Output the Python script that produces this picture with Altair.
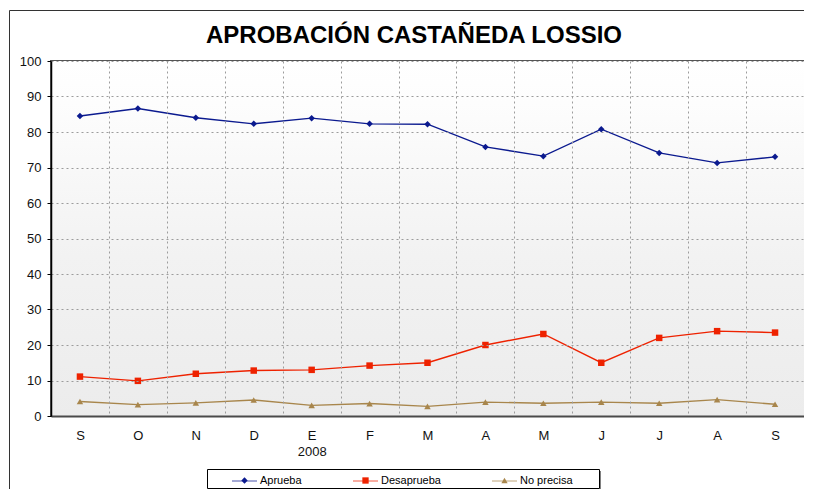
import altair as alt
import pandas as pd

# ---- data ----
keys = ["2007-09", "2007-10", "2007-11", "2007-12", "2008-01", "2008-02", "2008-03",
        "2008-04", "2008-05", "2008-06", "2008-07", "2008-08", "2008-09"]
month_labels = ["S", "O", "N", "D", "E", "F", "M", "A", "M", "J", "J", "A", "S"]
aprueba = [84.5, 86.6, 84.0, 82.3, 83.9, 82.3, 82.2, 75.8, 73.2, 80.8, 74.1, 71.3, 73.0]
desaprueba = [11.1, 9.9, 11.9, 12.8, 13.0, 14.2, 15.0, 20.0, 23.1, 15.0, 22.0, 23.9, 23.5]
no_precisa = [4.1, 3.2, 3.7, 4.5, 3.0, 3.5, 2.7, 3.9, 3.6, 3.9, 3.6, 4.6, 3.3]
series = ["Aprueba", "Desaprueba", "No precisa"]
y_ticks = [0, 10, 20, 30, 40, 50, 60, 70, 80, 90, 100]
title_text = "APROBACIÓN CASTAÑEDA LOSSIO"

# ---- styling ----
colors = ["#0b1a8f", "#ee2200", "#a8864c"]
point_shapes = ["diamond", "square", "triangle-up"]
legend_item_x = [181, 302, 441]   # legend layout (pixels from plot origin)
LEGEND_Y = 419.5
FONT = "Liberation Sans"
W, H = 753, 355

rows = []
for name, vals in zip(series, [aprueba, desaprueba, no_precisa]):
    for k, v in zip(keys, vals):
        rows.append({"mes": k, "serie": name, "valor": v})
df = pd.DataFrame(rows)

keys_js = "[" + ",".join(f"'{k}'" for k in keys) + "]"
labels_js = "[" + ",".join(f"'{m}'" for m in month_labels) + "]"
label_expr = (f"datum.value == '2008-01' ? ['E', '2008'] : "
              f"{labels_js}[indexof({keys_js}, datum.value)]")

x_enc = alt.X(
    "mes:N",
    sort=keys,
    scale=alt.Scale(type="band", domain=keys, paddingInner=0, paddingOuter=0),
    axis=alt.Axis(
        title=None, labelExpr=label_expr, labelAngle=0, tickBand="extent",
        grid=True, gridDash=[2, 3], gridColor="#9c9c9c", gridWidth=1,
        ticks=False, tickSize=0, labelPadding=13, labelFont=FONT, labelFontSize=13,
        labelColor="#111111", labelLineHeight=16, domainColor="#4a4a4a",
        domainWidth=2, zindex=1,
    ),
)
y_enc = alt.Y(
    "valor:Q",
    scale=alt.Scale(domain=[0, 100], nice=False),
    axis=alt.Axis(
        title=None, values=y_ticks, grid=True, gridDash=[2, 3], gridColor="#9c9c9c",
        gridWidth=1, tickSize=4, tickColor="#000000", labelPadding=6,
        labelFont=FONT, labelFontSize=13, labelColor="#111111",
        domainColor="#000000", domainWidth=1.5, zindex=1,
    ),
)
color_scale = alt.Scale(domain=series, range=colors)

one = pd.DataFrame({"t": [title_text]})

background = alt.Chart(one).mark_rect(
    fill=alt.Gradient(
        gradient="linear", x1=0, x2=0, y1=0, y2=1,
        stops=[alt.GradientStop(offset=0, color="#ffffff"),
               alt.GradientStop(offset=0.12, color="#fdfdfd"),
               alt.GradientStop(offset=0.55, color="#f2f2f2"),
               alt.GradientStop(offset=1, color="#ececec")],
    )
).encode(x=alt.value(0), x2=alt.value(W), y=alt.value(0), y2=alt.value(H))

frame_left = alt.Chart(one).mark_rule(color="#333333", strokeWidth=1).encode(
    x=alt.value(-41.5), y=alt.value(-50.5), y2=alt.value(480))
frame_top = alt.Chart(one).mark_rule(color="#333333", strokeWidth=1).encode(
    x=alt.value(-41.5), x2=alt.value(780), y=alt.value(-50.5))

title = alt.Chart(one).mark_text(
    font=FONT, fontSize=24, fontWeight="bold", color="#000000",
    align="center", baseline="alphabetic",
).encode(text="t:N", x=alt.value(363), y=alt.value(-18))

# legend frame with a thin shadow
shadow_bottom = alt.Chart(one).mark_rule(color="#808080", strokeWidth=1).encode(
    x=alt.value(158), x2=alt.value(550), y=alt.value(428.5))
shadow_right = alt.Chart(one).mark_rule(color="#808080", strokeWidth=1).encode(
    x=alt.value(549.5), y=alt.value(410), y2=alt.value(429))
legend_box = alt.Chart(one).mark_rect(fill="#ffffff", stroke="#000000", strokeWidth=1).encode(
    x=alt.value(156.5), x2=alt.value(548.5), y=alt.value(408.5), y2=alt.value(427.5))

lines = alt.Chart(df).mark_line(strokeWidth=1.4).encode(
    x=x_enc, y=y_enc,
    color=alt.Color("serie:N", scale=color_scale, legend=None),
)

marker_layers = []
legend_layers = []
for name, shp, col, lx in zip(series, point_shapes, colors, legend_item_x):
    marker_layers.append(
        alt.Chart(df).transform_filter(alt.datum.serie == name)
        .mark_point(filled=True, opacity=1, size=42, shape=shp)
        .encode(x=x_enc, y=y_enc,
                color=alt.Color("serie:N", scale=color_scale, legend=None))
    )
    item = pd.DataFrame({"serie": [name]})
    legend_layers.append(
        alt.Chart(item).mark_rule(color=col, strokeWidth=1, opacity=0.75).encode(
            x=alt.value(lx), x2=alt.value(lx + 25), y=alt.value(LEGEND_Y + 0.5))
    )
    legend_layers.append(
        alt.Chart(item).mark_point(filled=True, opacity=1, size=40, shape=shp, color=col)
        .encode(x=alt.value(lx + 12.5), y=alt.value(LEGEND_Y))
    )
    legend_layers.append(
        alt.Chart(item).mark_text(align="left", baseline="middle", font=FONT,
                                  fontSize=11, color="#000000")
        .encode(text="serie:N", x=alt.value(lx + 28), y=alt.value(LEGEND_Y))
    )

chart = alt.layer(
    background, frame_left, frame_top, title, shadow_bottom, shadow_right, legend_box,
    lines, *marker_layers, *legend_layers,
).properties(
    width=W, height=H,
    autosize="none",
    padding={"left": 43, "top": 53, "right": 0, "bottom": 73},
    background="#ffffff",
).configure_view(stroke="#555555", strokeWidth=2)

chart.save("out.html", embed_options={"renderer": "svg", "actions": False})
